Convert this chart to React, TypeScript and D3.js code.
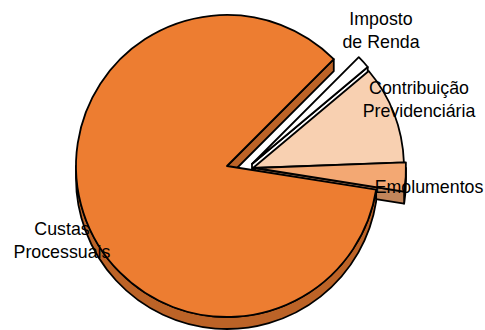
import React from "react";
import * as d3 from "d3";

// ---- data ----
const categories = ["Imposto de Renda", "Contribuição Previdenciária", "Emolumentos", "Custas Processuais"];
const values = [1.4, 10.5, 3.1, 85];
const labelLines = [["Imposto", "de Renda"], ["Contribuição", "Previdenciária"], ["Emolumentos"], ["Custas", "Processuais"]];

// ---- layout / style ----
const W = 485, H = 330;
const CX = 227, CY = 166, R = 151, DEPTH = 12;
const explode = [[25, -2], [26, 2], [28, 2], [0, 0]];
const labelPos = [[381, 25], [419, 94], [429, 193], [62, 235]];
const topColors = ["#FFFFFF", "#F8D0B1", "#F3A873", "#ED7D31"];
const LINE_H = 23;
const STROKE = 1.8;

const toXY = (a: number, r: number): [number, number] => [r * Math.sin(a), -r * Math.cos(a)];

export default function App() {
  const pie = d3.pie<number>().sort(null).value(d => d)
    .startAngle(Math.PI / 4).endAngle(Math.PI / 4 + 2 * Math.PI);
  const arcs = pie(values);
  const arcGen = d3.arc<d3.PieArcDatum<number>>().innerRadius(0).outerRadius(R);

  const slices = arcs.map((a, i) => {
    const ox = CX + explode[i][0], oy = CY + explode[i][1];
    const top = topColors[i];
    const side = i === 0 ? "#FFFFFF" : (d3.color(top) as d3.RGBColor).darker(0.65).formatHex();
    const parts: { d: string; fill: string }[] = [];
    const twoPi = 2 * Math.PI;
    for (let k = 0; k < 2; k++) {
      const lo = Math.PI / 2 + k * twoPi, hi = 1.5 * Math.PI + k * twoPi;
      const s = Math.max(a.startAngle, lo), e = Math.min(a.endAngle, hi);
      if (e > s) {
        const p = d3.path();
        const [x0, y0] = toXY(s, R);
        p.moveTo(ox + x0, oy + y0);
        p.arc(ox, oy, R, s - Math.PI / 2, e - Math.PI / 2, false);
        const [x1, y1] = toXY(e, R);
        p.lineTo(ox + x1, oy + y1 + DEPTH);
        p.arc(ox, oy + DEPTH, R, e - Math.PI / 2, s - Math.PI / 2, true);
        p.closePath();
        parts.push({ d: p.toString(), fill: side });
      }
    }
    const radial = (ang: number) => {
      const [x, y] = toXY(ang, R);
      const p = d3.path();
      p.moveTo(ox, oy);
      p.lineTo(ox + x, oy + y);
      p.lineTo(ox + x, oy + y + DEPTH);
      p.lineTo(ox, oy + DEPTH);
      p.closePath();
      return p.toString();
    };
    if (Math.sin(a.startAngle) < 0) parts.push({ d: radial(a.startAngle), fill: side });
    if (Math.sin(a.endAngle) > 0) parts.push({ d: radial(a.endAngle), fill: side });
    return (
      <g key={categories[i]}>
        {parts.map((p, j) => (
          <path key={j} d={p.d} fill={p.fill} stroke="#000" strokeWidth={STROKE} strokeLinejoin="round" />
        ))}
        <path d={arcGen(a) || ""} transform={`translate(${ox},${oy})`} fill={top}
          stroke="#000" strokeWidth={STROKE} strokeLinejoin="round" />
      </g>
    );
  });

  return (
    <svg width={W} height={H} style={{ position: "absolute", left: 0, top: 0, display: "block" }}>
      <rect width={W} height={H} fill="#fff" />
      {slices}
      {labelLines.map((lines, i) => (
        <text key={categories[i]} x={labelPos[i][0]} y={labelPos[i][1]} textAnchor="middle"
          fontFamily="'Liberation Sans', Arial, sans-serif" fontSize={17.8} fill="#000">
          {lines.map((t, j) => (
            <tspan key={j} x={labelPos[i][0]} dy={j === 0 ? 0 : LINE_H}>{t}</tspan>
          ))}
        </text>
      ))}
    </svg>
  );
}
